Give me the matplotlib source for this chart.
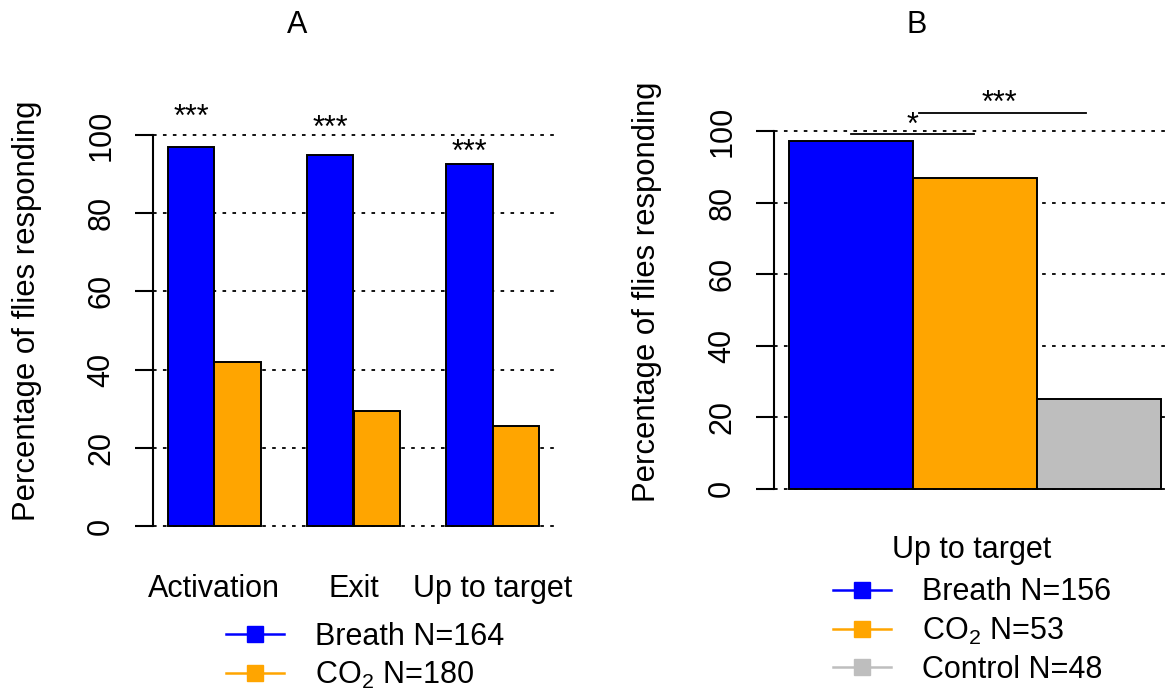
import matplotlib
matplotlib.use("Agg")
import matplotlib.pyplot as plt
from matplotlib.lines import Line2D
import numpy as np

plt.rcParams['font.family'] = ['Liberation Sans', 'DejaVu Sans']
plt.rcParams['mathtext.fontset'] = 'custom'
plt.rcParams['mathtext.rm'] = 'Liberation Sans'
plt.rcParams['mathtext.it'] = 'Liberation Sans:italic'
plt.rcParams['font.size'] = 22

# ---------------------------------
# data
# ---------------------------------
stages = ['Activation', 'Exit', 'Up to target']
breath_a = [97.0, 95.0, 92.5]
co2_a = [42.0, 29.5, 25.5]
stars_a = ['***', '***', '***']
stars_a_y = [104.5, 101.5, 95.5]
legend_a = ['Breath N=164', 'CO$_2$ N=180']

groups_b = ['Breath', 'CO2', 'Control']
values_b = [97.3, 87.0, 25.0]
legend_b = ['Breath N=156', 'CO$_2$ N=53', 'Control N=48']

yticks = [0, 20, 40, 60, 80, 100]
BLUE, ORANGE, GREY = '#0000ff', '#ffa500', '#bebebe'

fig = plt.figure(figsize=(11.68, 6.93), dpi=100)

# figure pixel helpers
W, H = 1168, 693
def box(l, t, r, b):
    return [l / W, 1 - b / H, (r - l) / W, (b - t) / H]


def style_axis(ax):
    for s in ['top', 'right', 'bottom']:
        ax.spines[s].set_visible(False)
    ax.spines['left'].set_bounds(0, 100)
    ax.spines['left'].set_linewidth(1.5)
    ax.set_ylim(-4, 104)
    ax.set_yticks(yticks)
    ax.set_yticklabels([str(t) for t in yticks], rotation=90, va='center')
    ax.tick_params(axis='y', length=13, width=1.5, pad=13.5)
    for t in yticks:
        ax.axhline(t, color='black', lw=1.3, ls=(0, (2, 3.5)), zorder=0)
    ax.set_ylabel('Percentage of flies responding', fontsize=22.4)
    ax.yaxis.set_label_coords(-0.278, 0.547)


# ---------------------------------
# Panel A
# ---------------------------------
axA = fig.add_axes(box(153, 119.4, 554, 541.6))
x = np.arange(len(stages)) * 3 + 1
axA.bar(x, breath_a, width=1, align='edge', color=BLUE, edgecolor='black', lw=1.4, zorder=2)
axA.bar(x + 1, co2_a, width=1, align='edge', color=ORANGE, edgecolor='black', lw=1.4, zorder=2)
axA.set_xlim(0.68, 9.32)
axA.set_xticks(x + 1)
axA.set_xticklabels(stages)
axA.tick_params(axis='x', length=0, pad=23)
for xi, s, sy in zip(x, stars_a, stars_a_y):
    axA.text(xi + 0.5, sy, s, ha='center', va='center', fontsize=22, clip_on=False)
style_axis(axA)
fig.text(297 / W, 1 - 25 / H, 'A', ha='center', va='center', fontsize=22)

handles_a = [Line2D([], [], color=c, marker='s', markersize=11, lw=1.8)
             for c in [BLUE, ORANGE]]
fig.legend(handles_a, legend_a, loc='upper left', bbox_to_anchor=(226 / W, 1 - 622 / H),
           frameon=False, borderpad=0, borderaxespad=0, handlelength=1.9,
           handletextpad=1.0, labelspacing=0.25, fontsize=22)

# ---------------------------------
# Panel B
# ---------------------------------
axB = fig.add_axes(box(774, 116.7, 1175.6, 503))
xb = np.arange(len(groups_b)) + 0.2
axB.bar(xb, values_b, width=1, align='edge', color=[BLUE, ORANGE, GREY],
        edgecolor='black', lw=1.4, zorder=2)
axB.set_xlim(0.08, 3.32)
axB.set_xticks([])
style_axis(axB)
# significance brackets
axB.plot([0.70, 1.69], [99.1, 99.1], color='black', lw=1.3, clip_on=False, zorder=3)
axB.text(1.195, 101.5, '*', ha='center', va='center', fontsize=22, clip_on=False)
axB.plot([1.25, 2.60], [104.9, 104.9], color='black', lw=1.3, clip_on=False, zorder=3)
axB.text(1.9, 107.5, '***', ha='center', va='center', fontsize=22, clip_on=False)
fig.text(917 / W, 1 - 25 / H, 'B', ha='center', va='center', fontsize=22)

handles_b = [Line2D([], [], color=c, marker='s', markersize=11, lw=1.8)
             for c in [BLUE, ORANGE, GREY]]
leg_b = fig.legend(handles_b, legend_b, title='Up to target', loc='upper left',
                   bbox_to_anchor=(833 / W, 1 - 535 / H), frameon=False, borderpad=0,
                   borderaxespad=0, handlelength=1.9, handletextpad=1.0, labelspacing=0.27,
                   fontsize=22, title_fontsize=22)
leg_b._legend_box.sep = 9

plt.savefig('out.png', dpi=100)
